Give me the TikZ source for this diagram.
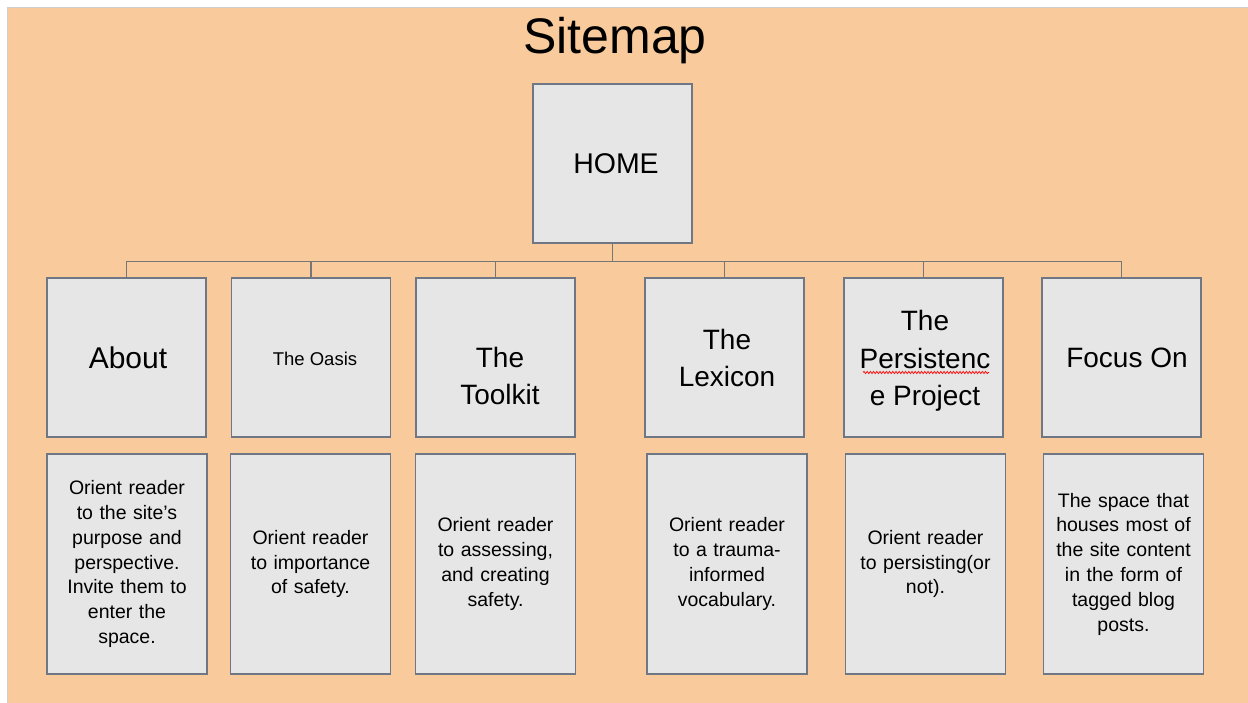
\documentclass[tikz,border=0pt]{standalone}
\usepackage{fontspec}
\setmainfont{Liberation Sans}
\usetikzlibrary{decorations.pathmorphing}

\definecolor{slide}{HTML}{F8CA9C}
\definecolor{boxfill}{HTML}{E6E6E6}
\definecolor{boxline}{HTML}{6F7784}
\definecolor{wirecol}{HTML}{767676}
\definecolor{framecol}{HTML}{CFCFCF}

\begin{document}
\begin{tikzpicture}[x=1pt, y=-1pt,
  card/.style={draw=boxline, fill=boxfill, line width=1.2pt, inner sep=0pt},
  pagebox/.style={card, minimum width=159pt, minimum height=159pt},
  notebox/.style={card, minimum width=160pt, minimum height=220pt,
    align=center, text width=156pt,
    font=\fontsize{19.5}{24.8}\selectfont},
  pagelabel/.style={align=center, inner sep=0pt,
    font=\fontsize{28}{37.5}\selectfont},
  wire/.style={draw=wirecol, line width=1.2pt}]

  % slide background with its thin frame
  \useasboundingbox (0,0) rectangle (1248,703);
  \fill[white] (0,0) rectangle (1248,703);
  \fill[slide] (8,8) rectangle (1248,703);
  \draw[framecol, line width=1.5pt] (7.5,703) -- (7.5,7.5) -- (1248,7.5);

  % title
  \node[inner sep=0pt, font=\fontsize{50}{58}\selectfont] (title) at (615,41) {Sitemap};

  % home page
  \node[pagebox] (home) at (612.5,163.5) {};
  \node[pagelabel, font=\fontsize{28.5}{34}\selectfont] (homelbl) at (616,164) {HOME};

  % section pages
  \node[pagebox] (about)   at (126.5,357.5) {};
  \node[pagebox] (oasis)   at (311,357.5)   {};
  \node[pagebox] (toolkit) at (495.5,357.5) {};
  \node[pagebox] (lexicon) at (724.5,357.5) {};
  \node[pagebox] (persist) at (923.5,357.5) {};
  \node[pagebox] (focus)   at (1121.5,357.5) {};

  \node[pagelabel, font=\fontsize{30}{37.5}\selectfont] (aboutlbl) at (128,358) {About};
  \node[pagelabel, font=\fontsize{18.5}{24}\selectfont] (oasislbl) at (315,358.5) {The Oasis};
  \node[pagelabel] (toolkitlbl) at (500,376) {The\\Toolkit};
  \node[pagelabel] (lexiconlbl) at (727,358) {The\\Lexicon};
  \node[pagelabel] (persistlbl) at (925,361) {The\\Persistenc\\e Project};
  \node[pagelabel] (focuslbl) at (1127,358) {Focus On};

  % spelling mark under the broken word
  \draw[red, line width=0.7pt, decorate,
        decoration={snake, amplitude=1.1pt, segment length=3.2pt}]
        (863,372.5) -- (989,372.5);

  % descriptions
  \node[notebox] (aboutnote)   at (127,564)    {Orient reader\\to the site’s\\purpose and\\perspective.\\Invite them to\\enter the\\space.};
  \node[notebox] (oasisnote)   at (310.5,564)  {Orient reader\\to importance\\of safety.};
  \node[notebox] (toolkitnote) at (495.5,564)  {Orient reader\\to assessing,\\and creating\\safety.};
  \node[notebox] (lexiconnote) at (727,564)    {Orient reader\\to a trauma-\\informed\\vocabulary.};
  \node[notebox] (persistnote) at (925.5,564)  {Orient reader\\to persisting(or\\not).};
  \node[notebox] (focusnote)   at (1123.5,564) {The space that\\houses most of\\the site content\\in the form of\\tagged blog\\posts.};

  % tree connectors
  \coordinate (bus) at ([yshift=-18pt]home.south);
  \draw[wire] (home.south) -- (bus);
  \foreach \child in {about, oasis, toolkit, lexicon, persist, focus}
    \draw[wire] (bus) -| (\child.north);
\end{tikzpicture}
\end{document}
